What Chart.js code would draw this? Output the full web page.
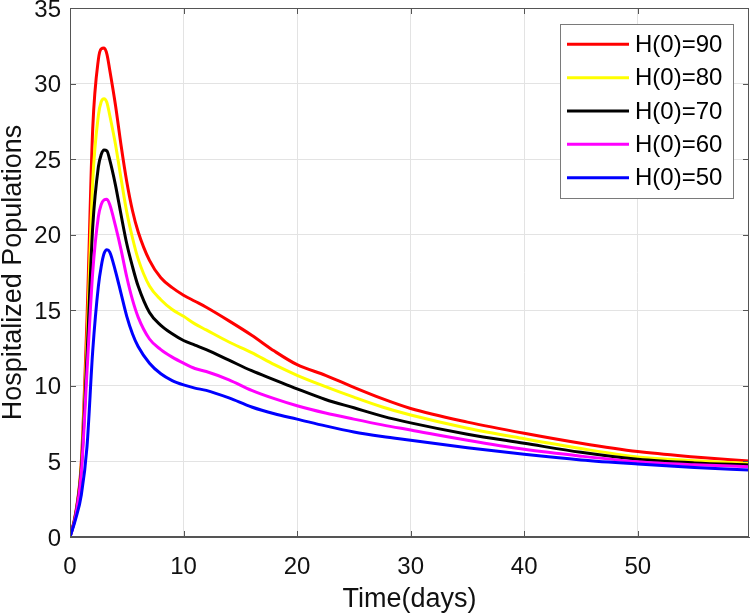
<!DOCTYPE html>
<html>
<head>
<meta charset="utf-8">
<script src="https://cdn.jsdelivr.net/npm/chart.js@4"></script>
<style>
  html, body { margin: 0; padding: 0; background: #ffffff; }
  #wrap { width: 751px; height: 616px; }
</style>
</head>
<body>
<div id="wrap"><canvas id="c" width="751" height="616"></canvas></div>
<script>
// ---- data ----
const timeDays = [0, 0.5, 1, 1.5, 2, 2.5, 2.75, 3, 3.25, 3.5, 4, 4.5, 5, 5.5, 6, 7, 8, 9, 10, 11, 12, 14, 16, 18, 20, 22.5, 25, 27.5, 30, 35, 40, 45, 50, 55, 59.8];
const seriesLabels = ["H(0)=90", "H(0)=80", "H(0)=70", "H(0)=60", "H(0)=50"];
const seriesColors = ["#ff0000", "#ffff00", "#000000", "#ff00ff", "#0000ff"];
const h90 = [0, 1.6, 5.0, 14.5, 27.0, 31.6, 32.3, 32.35, 31.95, 30.9, 28.6, 25.9, 23.5, 21.6, 20.2, 18.3, 17.15, 16.5, 16.0, 15.6, 15.2, 14.3, 13.35, 12.3, 11.4, 10.7, 9.9, 9.15, 8.5, 7.6, 6.86, 6.2, 5.65, 5.3, 5.03];
const h80 = [0, 1.5, 4.8, 13.0, 23.5, 27.9, 28.8, 29.0, 28.75, 27.9, 26.0, 23.7, 21.5, 19.8, 18.4, 16.6, 15.7, 15.05, 14.6, 14.1, 13.7, 12.9, 12.2, 11.4, 10.7, 9.95, 9.25, 8.6, 8.07, 7.2, 6.5, 5.85, 5.3, 5.05, 4.88];
const h70 = [0, 1.5, 4.6, 12.0, 20.5, 24.5, 25.3, 25.6, 25.55, 24.95, 23.3, 21.3, 19.4, 17.9, 16.6, 14.85, 14.0, 13.45, 13.0, 12.7, 12.4, 11.7, 11.0, 10.4, 9.8, 9.1, 8.55, 8.0, 7.55, 6.8, 6.2, 5.6, 5.14, 4.9, 4.77];
const h60 = [0, 1.4, 4.3, 11.0, 17.5, 21.2, 22.0, 22.3, 22.35, 22.0, 20.6, 19.0, 17.2, 15.7, 14.55, 13.1, 12.4, 11.9, 11.5, 11.15, 10.95, 10.4, 9.7, 9.15, 8.68, 8.2, 7.8, 7.42, 7.08, 6.4, 5.8, 5.35, 4.98, 4.78, 4.65];
const h50 = [0, 1.2, 2.8, 6.0, 12.3, 16.6, 17.9, 18.75, 19.0, 18.85, 17.6, 16.1, 14.6, 13.45, 12.6, 11.5, 10.8, 10.35, 10.06, 9.85, 9.7, 9.2, 8.6, 8.15, 7.8, 7.35, 6.95, 6.65, 6.4, 5.9, 5.47, 5.1, 4.83, 4.6, 4.43];
const seriesValues = [h90, h80, h70, h60, h50];
const xTicks = [0, 10, 20, 30, 40, 50];
const yTicks = [0, 5, 10, 15, 20, 25, 30, 35];
const xTitle = "Time(days)";
const yTitle = "Hospitalized Populations";

const FONT = "'Liberation Sans', Arial, Helvetica, sans-serif";
const AXIS_COLOR = "#555555";

const datasets = seriesLabels.map((lab, i) => ({
  label: lab,
  data: timeDays.map((t, k) => ({ x: t, y: seriesValues[i][k] })),
  borderColor: seriesColors[i],
  backgroundColor: seriesColors[i],
  borderWidth: 3,
  pointRadius: 0,
  fill: false,
  cubicInterpolationMode: 'monotone',
  order: seriesLabels.length - i
}));

const boxPlugin = {
  id: 'boxPlugin',
  afterDraw(chart) {
    const ctx = chart.ctx;
    const a = chart.chartArea;
    const xs = chart.scales.x, ys = chart.scales.y;
    ctx.save();
    ctx.strokeStyle = AXIS_COLOR;
    ctx.lineWidth = 1;
    ctx.strokeRect(a.left + 0.5, a.top + 0.5, a.right - a.left - 1, a.bottom - a.top - 1);
    const tl = 6;
    ctx.beginPath();
    xTicks.forEach(v => {
      const px = Math.round(xs.getPixelForValue(v)) + 0.5;
      ctx.moveTo(px, a.bottom); ctx.lineTo(px, a.bottom - tl);
      ctx.moveTo(px, a.top); ctx.lineTo(px, a.top + tl);
    });
    yTicks.forEach(v => {
      const py = Math.round(ys.getPixelForValue(v)) + 0.5;
      ctx.moveTo(a.left, py); ctx.lineTo(a.left + tl, py);
      ctx.moveTo(a.right, py); ctx.lineTo(a.right - tl, py);
    });
    ctx.stroke();

    // legend
    const lx = 560, ly = 24, lw = 173, lh = 174;
    ctx.fillStyle = '#ffffff';
    ctx.fillRect(lx, ly, lw, lh);
    ctx.strokeStyle = '#7a7a7a';
    ctx.strokeRect(lx + 0.5, ly + 0.5, lw, lh);
    ctx.font = "24px " + FONT;
    ctx.textBaseline = 'middle';
    ctx.textAlign = 'left';
    chart.data.datasets.forEach((ds, i) => {
      const ry = 44.3 + i * 33.35;
      ctx.strokeStyle = ds.borderColor;
      ctx.lineWidth = 3;
      ctx.beginPath();
      ctx.moveTo(567, ry); ctx.lineTo(629, ry);
      ctx.stroke();
      ctx.fillStyle = '#000000';
      ctx.fillText(ds.label, 635, ry + 1);
    });
    ctx.restore();
  }
};

new Chart(document.getElementById('c'), {
  type: 'line',
  data: { datasets },
  options: {
    responsive: false,
    animation: false,
    devicePixelRatio: 1,
    layout: { padding: { top: 8, right: 2, left: 0, bottom: 0 } },
    plugins: { legend: { display: false }, tooltip: { enabled: false } },
    scales: {
      x: {
        type: 'linear',
        min: 0, max: 59.8,
        afterBuildTicks: s => { s.ticks = xTicks.map(v => ({ value: v })); },
        afterFit: s => { s.height = 79; s.paddingLeft = 0; s.paddingRight = 0; },
        ticks: { padding: 16, color: '#111', font: { family: FONT, size: 24 }, maxRotation: 0, autoSkip: false },
        grid: { color: '#e3e3e3', drawTicks: false },
        border: { display: true, color: AXIS_COLOR, width: 1 },
        title: { display: true, text: xTitle, color: '#111', font: { family: FONT, size: 27, lineHeight: 1.2 }, padding: 0 }
      },
      y: {
        type: 'linear',
        min: 0, max: 35,
        afterBuildTicks: s => { s.ticks = yTicks.map(v => ({ value: v })); },
        afterFit: s => { s.width = 70; s.paddingTop = 0; s.paddingBottom = 0; },
        ticks: { padding: 9, labelOffset: 2, color: '#111', font: { family: FONT, size: 24 } },
        grid: { color: '#e3e3e3', drawTicks: false },
        border: { display: true, color: AXIS_COLOR, width: 1 },
        title: { display: true, text: yTitle, color: '#111', font: { family: FONT, size: 27, lineHeight: 1.0 }, padding: 0 }
      }
    }
  },
  plugins: [boxPlugin]
});
</script>
</body>
</html>
